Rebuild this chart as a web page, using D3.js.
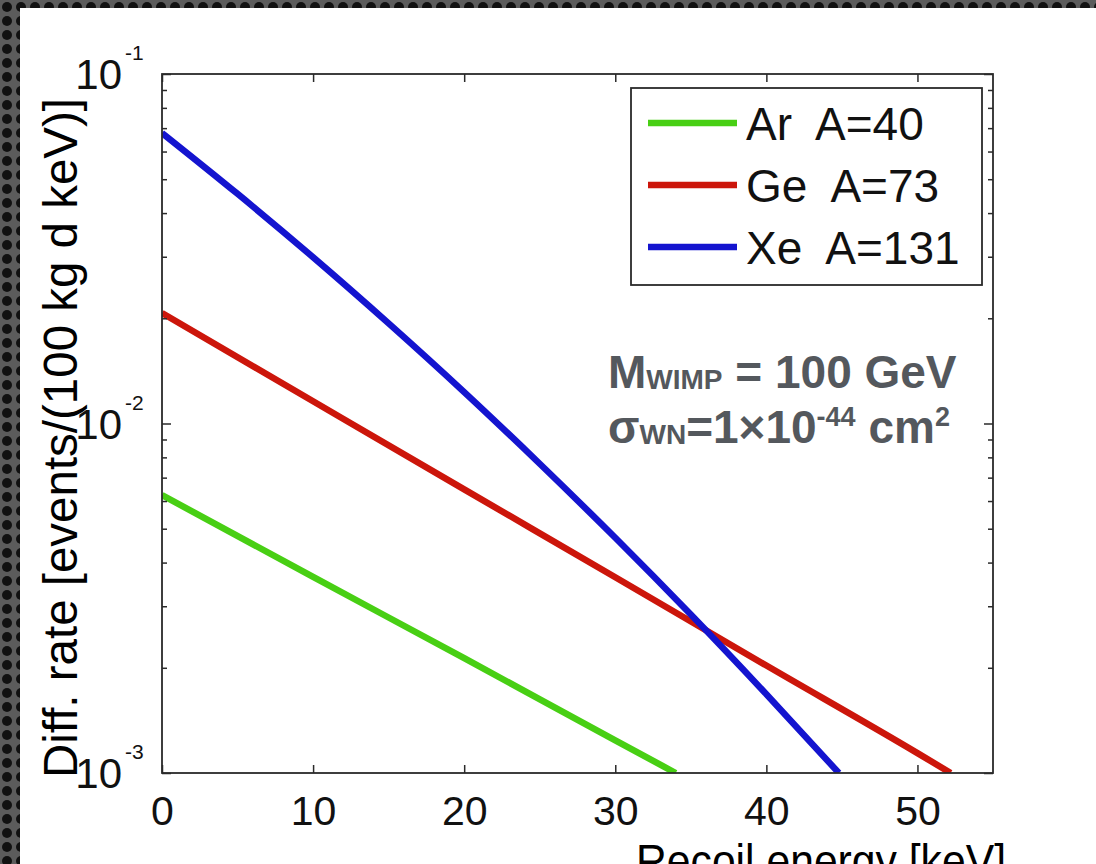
<!DOCTYPE html>
<html>
<head>
<meta charset="utf-8">
<script src="https://cdn.jsdelivr.net/npm/d3@7"></script>
<style>
  html, body { margin: 0; padding: 0; background: #4a4a4a; }
  svg { display: block; }
</style>
</head>
<body>
<svg id="chart" width="1096" height="864"></svg>
<script>
// recoil energy values (keV), one list per target
const arEnergy = [0, 10, 20, 30, 34];
const arRate = [0.00624, 0.00364, 0.00213, 0.00124, 0.001];

const geEnergy = [0, 10, 20, 30, 40, 50, 52.2];
const geRate = [0.0207, 0.01158, 0.00648, 0.00363, 0.00203, 0.00114, 0.001];

const xeEnergy = [0, 5, 10, 15, 20, 25, 30, 35, 40, 44.8];
const xeRate = [0.0678, 0.0454, 0.0299, 0.01934, 0.0123, 0.00767, 0.00471, 0.00284, 0.00168, 0.001];

const seriesNames = ["Ar  A=40", "Ge  A=73", "Xe  A=131"];
const seriesColors = ["#48cf14", "#cc160b", "#1414cf"];

const xTicks = [0, 10, 20, 30, 40, 50];
const yTicks = [0.001, 0.01, 0.1];
const yTickExp = ["-3", "-2", "-1"];

const svg = d3.select("#chart");
const W = 1096, H = 864;
const font = "'Liberation Sans', Arial, Helvetica, sans-serif";

// dark dotted border of the slide, white page
const defs = svg.append("defs");
const pat = defs.append("pattern")
  .attr("id", "dots").attr("patternUnits", "userSpaceOnUse")
  .attr("width", 14).attr("height", 14);
pat.append("rect").attr("width", 14).attr("height", 14).attr("fill", "#5c5c5c");
pat.append("circle").attr("cx", 7).attr("cy", 7).attr("r", 5).attr("fill", "#111");
svg.append("rect").attr("width", W).attr("height", H).attr("fill", "url(#dots)");
svg.append("rect").attr("x", 20).attr("y", 8).attr("width", W - 20).attr("height", H - 8).attr("fill", "#fff");

const plot = {left: 162, right: 993, top: 74, bottom: 773};

const x = d3.scaleLinear().domain([0, 55]).range([plot.left, plot.right]);
const y = d3.scaleLog().domain([0.001, 0.1]).range([plot.bottom, plot.top]);

defs.append("clipPath").attr("id", "plotclip")
  .append("rect")
  .attr("x", plot.left).attr("y", plot.top)
  .attr("width", plot.right - plot.left).attr("height", plot.bottom - plot.top);

// curves
const series = [
  {e: arEnergy, r: arRate},
  {e: geEnergy, r: geRate},
  {e: xeEnergy, r: xeRate}
];
const line = d3.line()
  .x(d => x(d[0]))
  .y(d => y(d[1]))
  .curve(d3.curveMonotoneX);

svg.append("g").attr("clip-path", "url(#plotclip)")
  .selectAll("path")
  .data(series)
  .enter()
  .append("path")
  .attr("d", s => line(s.e.map((v, i) => [v, s.r[i]])))
  .attr("fill", "none")
  .attr("stroke", (s, i) => seriesColors[i])
  .attr("stroke-width", 6.5)
  .attr("stroke-linejoin", "round");

// axes: ticks pointing inwards on all four sides
const axisColor = "#2a2a2a";
const minorTicks = [];
[0.001, 0.01].forEach(dec => { for (let k = 2; k <= 9; k++) minorTicks.push(dec * k); });

const styleAxis = g => {
  g.select(".domain").remove();
  g.selectAll("line").attr("stroke", axisColor).attr("stroke-width", 1.5);
};

svg.append("g").attr("transform", `translate(0,${plot.bottom})`)
  .call(d3.axisBottom(x).tickValues(xTicks).tickSize(-8).tickPadding(23).tickFormat(d3.format("d")))
  .call(styleAxis)
  .selectAll("text")
  .attr("font-family", font).attr("font-size", 41).attr("fill", "#111");

svg.append("g").attr("transform", `translate(0,${plot.top})`)
  .call(d3.axisTop(x).tickValues(xTicks).tickSize(-8).tickFormat(""))
  .call(styleAxis);

svg.append("g").attr("transform", `translate(${plot.left},0)`)
  .call(d3.axisLeft(y).tickValues(yTicks).tickSize(-9).tickFormat(""))
  .call(styleAxis);
svg.append("g").attr("transform", `translate(${plot.left},0)`)
  .call(d3.axisLeft(y).tickValues(minorTicks).tickSize(-5).tickFormat(""))
  .call(styleAxis);
svg.append("g").attr("transform", `translate(${plot.right},0)`)
  .call(d3.axisRight(y).tickValues(yTicks).tickSize(-9).tickFormat(""))
  .call(styleAxis);
svg.append("g").attr("transform", `translate(${plot.right},0)`)
  .call(d3.axisRight(y).tickValues(minorTicks).tickSize(-5).tickFormat(""))
  .call(styleAxis);

// box
svg.append("rect")
  .attr("x", plot.left).attr("y", plot.top)
  .attr("width", plot.right - plot.left).attr("height", plot.bottom - plot.top)
  .attr("fill", "none").attr("stroke", axisColor).attr("stroke-width", 1.8);

// y tick labels as 10 with exponent
const yLab = svg.append("g").selectAll("g")
  .data(yTicks)
  .enter()
  .append("g");
yLab.append("text")
  .attr("x", 122).attr("y", d => y(d) + 15)
  .attr("text-anchor", "end")
  .attr("font-family", font).attr("font-size", 42).attr("fill", "#111")
  .text("10");
yLab.append("text")
  .attr("x", 125).attr("y", d => y(d) - 14)
  .attr("font-family", font).attr("font-size", 21).attr("fill", "#111")
  .text((d, i) => yTickExp[i]);

// axis titles
svg.append("text")
  .attr("transform", "translate(77,438) rotate(-90)")
  .attr("text-anchor", "middle")
  .attr("font-family", font).attr("font-size", 48).attr("fill", "#000")
  .attr("textLength", 680).attr("lengthAdjust", "spacingAndGlyphs")
  .text("Diff. rate [events/(100 kg d keV)]");

svg.append("text")
  .attr("x", 636).attr("y", 877)
  .attr("font-family", font).attr("font-size", 46).attr("fill", "#000")
  .attr("textLength", 370).attr("lengthAdjust", "spacingAndGlyphs")
  .text("Recoil energy [keV]");

// legend
const legend = svg.append("g");
legend.append("rect")
  .attr("x", 631).attr("y", 88).attr("width", 351).attr("height", 197)
  .attr("fill", "#fff").attr("stroke", axisColor).attr("stroke-width", 1.8);
const rows = legend.selectAll("g.row")
  .data(seriesNames)
  .enter()
  .append("g")
  .attr("class", "row")
  .attr("transform", (d, i) => `translate(0,${123 + i * 62})`);
rows.append("line")
  .attr("x1", 648).attr("x2", 737)
  .attr("stroke", (d, i) => seriesColors[i]).attr("stroke-width", 6.5);
rows.append("text")
  .attr("x", 746).attr("y", 17)
  .attr("font-family", font).attr("font-size", 46).attr("fill", "#111")
  .attr("xml:space", "preserve")
  .style("white-space", "pre")
  .text(d => d);

// annotation
const note = svg.append("g")
  .attr("font-family", font).attr("font-weight", "bold").attr("fill", "#54585d");
const l1 = note.append("text").attr("x", 608).attr("y", 388).attr("font-size", 46);
l1.append("tspan").text("M");
l1.append("tspan").attr("font-size", 28).attr("dy", 1).text("WIMP");
l1.append("tspan").attr("dy", -1).text(" = 100 GeV");
const l2 = note.append("text").attr("x", 608).attr("y", 443).attr("font-size", 46);
l2.append("tspan").text("σ");
l2.append("tspan").attr("font-size", 28).attr("dy", 1).text("WN");
l2.append("tspan").attr("dy", -1).text("=1×10");
l2.append("tspan").attr("font-size", 27).attr("dy", -17).text("-44");
l2.append("tspan").attr("dy", 17).text(" cm");
l2.append("tspan").attr("font-size", 27).attr("dy", -17).text("2");
</script>
</body>
</html>
